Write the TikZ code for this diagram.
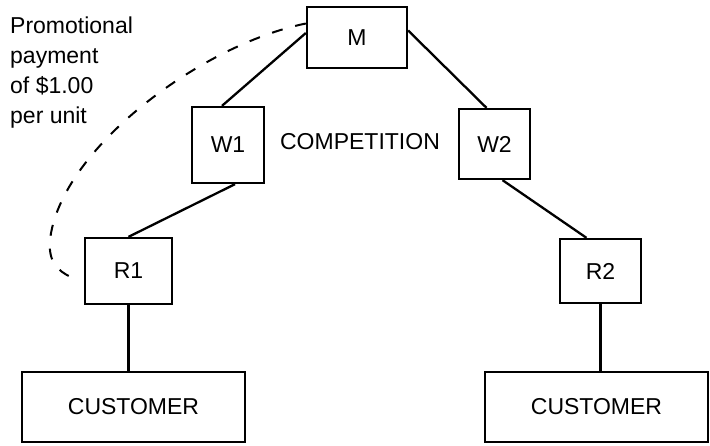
\documentclass[tikz,border=0pt]{standalone}
\usepackage{fontspec}
\setmainfont{Liberation Sans}
\usetikzlibrary{calc}
\begin{document}
\begin{tikzpicture}[x=1pt,y=-1pt,
  every node/.style={font=\fontsize{23}{30}\selectfont},
  box/.style={draw,line width=2.3pt,inner sep=0pt},
  link/.style={line width=2.3pt},
  promo/.style={line width=2pt,dash pattern=on 11pt off 13pt}]
\useasboundingbox (0,0) rectangle (710,445);

% distribution chain: manufacturer, wholesalers, retailers, customers
\node[box,minimum width=100pt,minimum height=61pt] (M)  at (357,37.5) {M};
\node[box,minimum width=72pt,minimum height=76pt]  (W1) at (228,145)  {W1};
\node[box,minimum width=71pt,minimum height=70pt]  (W2) at (494.5,144) {W2};
\node[box,minimum width=87pt,minimum height=66pt]  (R1) at (128.5,271) {R1};
\node[box,minimum width=81pt,minimum height=64pt]  (R2) at (600.5,271) {R2};
\node[box,minimum width=223pt,minimum height=70pt] (C1) at (133.5,407) {CUSTOMER};
\node[box,minimum width=223pt,minimum height=70pt] (C2) at (596.5,407) {CUSTOMER};

\node (comp) at (360,142) {COMPETITION};
\node[align=left,anchor=north west,inner sep=0pt] (promotext) at (10,17)
  {Promotional\\payment\\of \$1.00\\per unit};

% solid links
\draw[link] ($(M.west)+(0,-4.5)$) -- ($(W1.north)+(-6,0)$);
\draw[link] ($(M.east)+(0,-7)$) -- ($(W2.north)+(-8,0)$);
\draw[link] ($(W1.south)+(7,0)$) -- (R1.north);
\draw[link] ($(W2.south)+(8,0)$) -- ($(R2.north)+(-14,0)$);
\draw[link] (R1.south) -- (R1.south |- C1.north);
\draw[link] (R2.south) -- (R2.south |- C2.north);

% promotional payment from M back to R1
\coordinate (pend) at ($(R1.west)+(-13,6)$);
\draw[promo] ($(M.west)+(0,-14)$)
  .. controls (200,45) and (60,150) .. (50,240)
  .. controls (48,262) and (58,271) .. (pend);
\end{tikzpicture}
\end{document}
